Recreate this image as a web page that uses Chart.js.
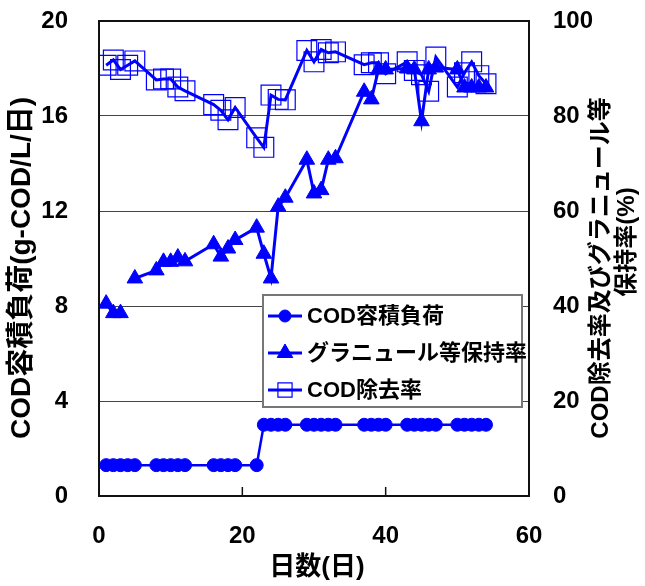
<!DOCTYPE html>
<html lang="ja">
<head>
<meta charset="UTF-8">
<title>COD容積負荷とCOD除去率</title>
<script src="https://cdn.jsdelivr.net/npm/chart.js"></script>
<style>
  html, body { margin: 0; padding: 0; background: #fff; }
</style>
</head>
<body>
<canvas id="myChart" width="645" height="586"></canvas>

<script>
// データ
const loadDays = [1, 2, 3, 4, 5, 8, 9, 10, 11, 12, 16, 17, 18, 19, 22,
  23, 24, 25, 26, 29, 30, 31, 32, 33, 37, 38, 39, 40, 43, 44, 45, 46, 47, 50, 51, 52, 53, 54];
const loadValues = [1.3, 1.3, 1.3, 1.3, 1.3, 1.3, 1.3, 1.3, 1.3, 1.3, 1.3, 1.3, 1.3, 1.3, 1.3,
  3.0, 3.0, 3.0, 3.0, 3.0, 3.0, 3.0, 3.0, 3.0, 3.0, 3.0, 3.0, 3.0, 3.0, 3.0, 3.0, 3.0, 3.0, 3.0, 3.0, 3.0, 3.0, 3.0];

// 4日目は欠測（線が切れている）
const granuleDays = [1, 2, 3, 4, 5, 8, 9, 10, 11, 12, 16, 17, 18, 19, 22, 23, 24, 25, 26,
  29, 30, 31, 32, 33, 37, 38, 39, 40, 43, 44, 45, 46, 47, 50, 51, 52, 53, 54];
const granuleValues = [40.5, 38.5, 38.5, null, 45.8, 47.5, 49.3, 49.3, 50.2, 49.4, 53.0, 50.4, 52.1, 53.9,
  56.5, 51.0, 45.8, 60.9, 62.8, 70.8, 63.7, 64.4, 70.8, 71.1, 85.1, 83.5, 89.8, 89.8,
  90.0, 89.8, 78.9, 89.8, 90.2, 89.8, 86.0, 86.0, 86.0, 86.0];

const removalDays = [1, 2, 3, 4, 5, 8, 9, 10, 11, 12, 16, 17, 18, 19, 22, 23, 24, 25, 26,
  29, 30, 31, 32, 33, 37, 38, 39, 40, 43, 44, 45, 46, 47, 50, 51, 52, 53, 54];
const removalValues = [90.7, 91.8, 89.8, 90.7, 91.6, 87.6, 87.8, 87.8, 86.1, 85.3, 82.4, 81.2, 79.2, 81.8,
  75.4, 73.4, 84.4, 83.5, 83.4, 93.8, 91.4, 94.0, 93.3, 93.5, 90.8, 91.2, 91.2, 88.9,
  91.4, 89.6, 88.7, 85.2, 92.4, 86.1, 89.1, 91.4, 88.5, 86.8];

const xTicks = [0, 20, 40, 60];
const leftTicks = [0, 4, 8, 12, 16, 20];
const rightTicks = [0, 20, 40, 60, 80, 100];

const FONT = "'Liberation Sans', Arial, 'Noto Sans CJK JP', sans-serif";
const BLUE = "#0000ff";

function toPoints(xs, ys) {
  return xs.map((x, i) => ({ x: x, y: ys[i] }));
}

function marker(ctx, style, r, x, y, fill, bw) {
  ctx.save();
  ctx.fillStyle = fill;
  ctx.strokeStyle = BLUE;
  ctx.lineWidth = bw;
  Chart.helpers.drawPoint(ctx, { pointStyle: style, radius: r, borderWidth: bw, rotation: 0 }, x, y);
  ctx.restore();
}

// 縦軸の目盛りラベル余白が上下の余白に入らないようにする
function fitVertical(width) {
  return s => {
    s.width = width;
    s.paddingTop = 0;
    s.paddingBottom = 0;
  };
}

// 枠、目盛り、軸タイトル、凡例を描く
const decoPlugin = {
  id: "deco",
  afterDraw(chart) {
    const ctx = chart.ctx;
    const a = chart.chartArea;
    const xs = chart.scales.x;

    ctx.save();
    // 枠
    ctx.strokeStyle = "#111";
    ctx.lineWidth = 2;
    ctx.strokeRect(a.left, a.top, a.right - a.left, a.bottom - a.top);

    // x軸の内向き目盛り
    ctx.lineWidth = 1.5;
    xTicks.forEach(v => {
      const px = xs.getPixelForValue(v);
      ctx.beginPath();
      ctx.moveTo(px, a.bottom);
      ctx.lineTo(px, a.bottom - 9);
      ctx.stroke();
    });

    // 軸タイトル
    ctx.fillStyle = "#000";
    ctx.textAlign = "center";
    ctx.textBaseline = "middle";

    ctx.font = "bold 26px " + FONT;
    ctx.fillText("日数(日)", (a.left + a.right) / 2 + 3, 568);

    ctx.save();
    ctx.translate(22, 268);
    ctx.rotate(-Math.PI / 2);
    ctx.font = "bold 28px " + FONT;
    ctx.fillText("COD容積負荷(g-COD/L/日)", 0, 0);
    ctx.restore();

    ctx.save();
    ctx.translate(601, 268);
    ctx.rotate(-Math.PI / 2);
    ctx.font = "bold 24px " + FONT;
    ctx.fillText("COD除去率及びグラニュール等", 0, 0);
    ctx.fillText("保持率(%)", 26, 26);
    ctx.restore();

    // 凡例
    const lx = a.left + 164, ly = a.top + 274, lw = 259, lh = 112;
    ctx.fillStyle = "#fff";
    ctx.fillRect(lx, ly, lw, lh);
    ctx.strokeStyle = "#777";
    ctx.lineWidth = 2;
    ctx.strokeRect(lx, ly, lw, lh);

    const rows = [
      { text: "COD容積負荷", style: "circle", r: 6, fill: BLUE, bw: 1 },
      { text: "グラニュール等保持率", style: "triangle", r: 9, fill: BLUE, bw: 1 },
      { text: "COD除去率", style: "rect", r: 10, fill: "rgba(0,0,0,0)", bw: 1.2 }
    ];
    ctx.font = "bold 22px " + FONT;
    ctx.textAlign = "left";
    rows.forEach((row, i) => {
      const cy = ly + 21 + i * 37;
      ctx.strokeStyle = BLUE;
      ctx.lineWidth = 3;
      ctx.beginPath();
      ctx.moveTo(lx + 5, cy);
      ctx.lineTo(lx + 39, cy);
      ctx.stroke();
      marker(ctx, row.style, row.r, lx + 22, cy, row.fill, row.bw);
      ctx.fillStyle = "#000";
      ctx.fillText(row.text, lx + 44, cy + 1);
    });
    ctx.restore();
  }
};

const config = {
  type: "line",
  data: {
    datasets: [
      {
        label: "COD容積負荷",
        data: toPoints(loadDays, loadValues),
        yAxisID: "y",
        borderColor: BLUE,
        backgroundColor: BLUE,
        borderWidth: 2.5,
        pointStyle: "circle",
        pointRadius: 6.5,
        pointBorderWidth: 1,
        tension: 0
      },
      {
        label: "グラニュール等保持率",
        data: toPoints(granuleDays, granuleValues),
        yAxisID: "y1",
        borderColor: BLUE,
        backgroundColor: BLUE,
        borderWidth: 3,
        pointStyle: "triangle",
        pointRadius: 9,
        pointBorderWidth: 1,
        spanGaps: false,
        tension: 0
      },
      {
        label: "COD除去率",
        data: toPoints(removalDays, removalValues),
        yAxisID: "y1",
        borderColor: BLUE,
        backgroundColor: "rgba(0,0,0,0)",
        pointBorderColor: BLUE,
        borderWidth: 3,
        pointStyle: "rect",
        pointRadius: 14,
        pointBorderWidth: 1.2,
        tension: 0
      }
    ]
  },
  options: {
    responsive: false,
    animation: false,
    devicePixelRatio: 1,
    layout: { autoPadding: false, padding: { top: 21, left: 0, right: 0, bottom: 0 } },
    plugins: {
      legend: { display: false },
      tooltip: { enabled: false }
    },
    scales: {
      x: {
        type: "linear",
        min: 0,
        max: 60,
        afterBuildTicks: s => { s.ticks = xTicks.map(v => ({ value: v })); },
        afterFit: s => { s.height = 90; },
        grid: { display: false, drawTicks: false },
        border: { display: false },
        ticks: { padding: 26, color: "#000", font: { family: FONT, size: 24, weight: "bold" } }
      },
      y: {
        position: "left",
        min: 0,
        max: 20,
        afterBuildTicks: s => { s.ticks = leftTicks.map(v => ({ value: v })); },
        afterFit: fitVertical(99),
        grid: { color: "#444", lineWidth: 1, drawTicks: false },
        border: { display: false },
        ticks: { padding: 31, color: "#000", font: { family: FONT, size: 24, weight: "bold" } }
      },
      y1: {
        position: "right",
        min: 0,
        max: 100,
        afterBuildTicks: s => { s.ticks = rightTicks.map(v => ({ value: v })); },
        afterFit: fitVertical(116),
        grid: { display: false, drawTicks: false },
        border: { display: false },
        ticks: { padding: 24, color: "#000", font: { family: FONT, size: 24, weight: "bold" } }
      }
    }
  },
  plugins: [decoPlugin]
};

new Chart(document.getElementById("myChart"), config);
</script>
</body>
</html>
